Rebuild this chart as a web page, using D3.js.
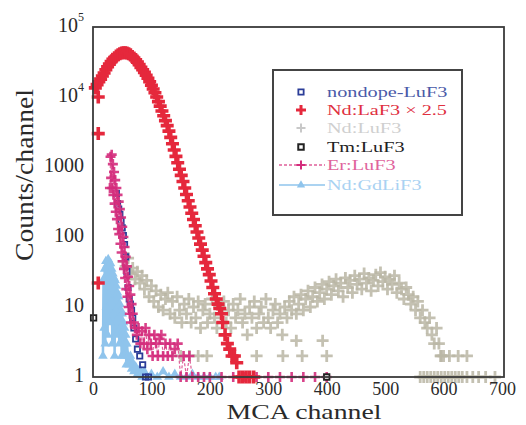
<!DOCTYPE html>
<html>
<head>
<meta charset="utf-8">
<script src="https://cdn.jsdelivr.net/npm/d3@7"></script>
<style>
  html, body { margin: 0; padding: 0; background: #fff; }
  svg { display: block; }
  text { font-family: "Liberation Serif", "Times New Roman", serif; }
</style>
</head>
<body>
<svg id="chart" width="526" height="425"></svg>
<script>
// ---------------- data ----------------
const xTicks = [0, 100, 200, 300, 400, 500, 600, 700];
const yTicks = [1, 10, 100, 1000, 10000, 100000];
const yTickLabels = ["1", "10", "100", "1000", "10^4", "10^5"];
const seriesNames = ["nondope-LuF3", "Nd:LaF3 \u00d7 2.5", "Nd:LuF3", "Tm:LuF3", "Er:LuF3", "Nd:GdLiF3"];

// Nd:LaF3 x 2.5 (red)
const ndLaCh = [4,7,10,13,16,19,22,25,28,31,34,37,40,43,46,49,52,55,58,61,64,67,70,73,76,79,82,85,88,91,94,97,100,103,106,109,112,115,118,121,124,127,130,133,136,139,142,145,148,151,154,157,160,163,166,169,172,175,178,181,184,187,190,193,196,199,202,205,208,211,214,217,220,
  9,9,9,222,226,230,234,238,242,246,250,256,262,268,275];
const ndLaVal = [13500,15000,16500,18000,20000,22000,24500,27000,29500,32000,34500,36500,38500,40000,41500,42500,43000,43000,42500,41500,40000,38000,36000,34000,31500,29000,26500,24500,22500,20500,18500,16500,14700,13000,11500,10000,8600,7400,6300,5400,4600,3900,3250,2650,2150,1750,1420,1150,930,760,620,500,405,330,268,218,178,145,118,97,79,65,53,43,35,29,23.5,19,15.5,13,11,9.5,8,
  10000,3000,22,6,4,3,2.5,2,2,1.6,1,1,1,1,1];

// Nd:LuF3 (gray)
const ndLuCh = [52,56,60,64,68,72,76,80,84,88,92,96,100,104,108,112,116,120,124,128,132,136,140,144,148,152,156,160,164,168,172,176,180,184,188,192,196,200,204,208,212,216,220,224,228,232,236,240,244,248,252,256,260,264,268,272,276,280,284,288,292,296,300,304,308,312,316,320,324,328,332,336,340,344,348,352,356,360,364,368,372,376,380,384,388,392,396,400,404,408,412,416,420,424,428,432,436,440,444,448,452,456,460,464,468,472,476,480,484,488,492,496,500,504,508,512,516,520,524,528,532,536,540,544,548,552,556,560,564,568,572,576,580,584,588,592,596,600,
  150,165,180,195,280,325,358,400,348,393,595,610,625,640,560,566,572,578,584,590,596,602,608,614,620,626,632,640,650,660,672,688];
const ndLuVal = [45,38,50,30,36,25,32,22,28,18,24,14,20,12,17,10,15,9,13,16,8,12,7,14,9,6,11,8,13,6,10,7,12,5,9,11,6,8,13,7,5,10,8,12,6,9,5,11,7,9,13,6,8,4,10,7,12,5,8,10,6,13,7,5,9,11,6,8,4,10,7,12,9,14,8,11,15,9,13,17,10,14,19,12,16,21,13,18,23,15,20,25,17,22,14,26,19,24,16,28,21,25,18,30,22,26,17,24,29,20,31,23,27,18,25,21,28,16,22,18,13,19,15,11,14,9,12,7,9,6,5,7,4,3,5,3,2,2,
  2,2,2,2,2,2,2,2,3.3,3.3,2,2,2,2,1,1,1,1,1,1,1,1,1,1,1,1,1,1,1,1,1,1];

// nondope-LuF3 (dark blue squares)
const nondopeCh = [40,42,44,46,48,50,52,54,56,58,60,62,64,66,68,70,73,76,80,85,90,95];
const nondopeVal = [420,300,250,210,170,135,105,78,52,32,19,13,11,9,7,5,3.5,2.5,2,1.5,1,1];

// Tm:LuF3 (black squares)
const tmCh = [1, 400];
const tmVal = [7, 1];

// Er:LuF3 (magenta plus, dashed line)
const erCh = [29,30,31,32,33,34,35,36,37,38,39,40,41,42,43,44,45,46,47,48,49,50,51,52,53,54,55,56,57,58,59,60,61,62,63,64,65,66,68,70,72,75,78,81,84,87,90,93,96,99,102,105,108,111,114,117,120,124,128,132,136,140,145,150,155,160,165,170,180,190,200,220,240,260,280,300,320,340,360,380,400];
const erVal = [500,1400,700,1500,500,1100,400,850,300,650,230,500,180,400,130,320,110,250,80,190,60,140,45,100,35,72,26,52,18,38,14,27,10,20,8,15,6,11,8,6,5,4,5,3,4.5,3,5,2.5,4,3,2,4,3,2,3.5,4,2,3,2,3,2,2.5,3,1,2,1,2,1,1,1,1,1,1,1,1,1,1,1,1,1,1];

// Nd:GdLiF3 (light blue triangles, solid line)
const gdCh = [17,18,19,20,21,22,23,24,25,26,27,28,29,30,31,32,33,34,35,36,37,38,39,40,41,42,43,44,45,46,47,48,49,50,51,52,53,54,55,56,57,58,60,62,64,66,68,70,73,76,80,84,88,92,100,110,120,130,140,150,160,170,180,190,200,210,216];
const gdVal = [2,25,5,35,3,45,10,40,4,48,15,40,6,42,12,35,3,30,8,26,2,24,9,20,4,16,7,14,3,11,5,9,2,8,4,6,2,5,3,4,1.5,3,2,1.5,2,1.3,1.6,1.2,1.4,1.1,1.3,1,1.2,1,1.1,1,1.2,1,1.1,1,1,1.1,1,1,1,1,1];

// ---------------- drawing ----------------
const svg = d3.select("#chart");
const W = 526, H = 425;
const m = { left: 93, right: 504, top: 27, bottom: 377 };

svg.append("rect").attr("width", W).attr("height", H).attr("fill", "#fff");

const x = d3.scaleLinear().domain([0, 700]).range([m.left, 502]);
const y = d3.scaleLog().domain([1, 1e5]).range([m.bottom, m.top]);

const colors = {
  red: "#e5283c", gray: "#bab6a4", blue: "#2b3d98", black: "#222222",
  mag: "#d42c7c", lblue: "#8fc4ec"
};

const plusPath = s => `M${-s},0H${s}M0,${-s}V${s}`;
const zip = (a, b) => a.map((c, i) => ({ c, v: b[i] }));

function plusSeries(data, color, s, w, op) {
  svg.append("g").selectAll("path").data(data).join("path")
    .attr("transform", d => `translate(${x(d.c)},${y(d.v)})`)
    .attr("d", plusPath(s))
    .attr("stroke", color).attr("stroke-width", w).attr("fill", "none")
    .attr("opacity", op);
}

// gray Nd:LuF3
plusSeries(zip(ndLuCh, ndLuVal), colors.gray, 6, 2.8, 0.85);

// light blue Nd:GdLiF3
const gdData = zip(gdCh, gdVal);
svg.append("path").datum(gdData)
  .attr("d", d3.line().x(d => x(d.c)).y(d => y(d.v)))
  .attr("fill", "none").attr("stroke", colors.lblue).attr("stroke-width", 2.5);
svg.append("g").selectAll("path").data(gdData).join("path")
  .attr("transform", d => `translate(${x(d.c)},${y(d.v)})`)
  .attr("d", d3.symbol(d3.symbolTriangle, 40))
  .attr("fill", colors.lblue);

// nondope blue squares
svg.append("g").selectAll("path").data(zip(nondopeCh, nondopeVal)).join("path")
  .attr("transform", d => `translate(${x(d.c)},${y(d.v)})`)
  .attr("d", d3.symbol(d3.symbolSquare, 28))
  .attr("fill", "none").attr("stroke", colors.blue).attr("stroke-width", 1.8);

// Er:LuF3 magenta
const erData = zip(erCh, erVal);
svg.append("path").datum(erData)
  .attr("d", d3.line().x(d => x(d.c)).y(d => y(d.v)))
  .attr("fill", "none").attr("stroke", "#e0609a").attr("stroke-width", 1.2)
  .attr("stroke-dasharray", "3,2");
plusSeries(erData, colors.mag, 5, 2.6, 0.9);

// red Nd:LaF3
plusSeries(zip(ndLaCh, ndLaVal), colors.red, 6.5, 3.6, 1);

// Tm black squares
svg.append("g").selectAll("path").data(zip(tmCh, tmVal)).join("path")
  .attr("transform", d => `translate(${x(d.c)},${y(d.v)})`)
  .attr("d", d3.symbol(d3.symbolSquare, 30))
  .attr("fill", "#fff").attr("stroke", colors.black).attr("stroke-width", 1.8);

// frame
svg.append("rect")
  .attr("x", m.left).attr("y", m.top)
  .attr("width", m.right - m.left).attr("height", m.bottom - m.top)
  .attr("fill", "none").attr("stroke", "#3a3a3a").attr("stroke-width", 1.8);

// axes
const xAxis = svg.append("g").attr("transform", `translate(0,${m.bottom})`)
  .call(d3.axisBottom(x).tickValues(xTicks).tickSize(0).tickPadding(5).tickFormat(d3.format("d")));
xAxis.select(".domain").remove();
xAxis.selectAll("text").attr("font-size", 18).attr("fill", "#2a2a2a")
  .attr("font-family", '"Liberation Serif", serif');

const yAxis = svg.append("g").attr("transform", `translate(${m.left},0)`)
  .call(d3.axisLeft(y).tickValues(yTicks).tickSize(0).tickPadding(9).tickFormat(""));
yAxis.select(".domain").remove();
yAxis.selectAll(".tick text").each(function(d) {
  const t = d3.select(this).attr("font-size", 20).attr("fill", "#2a2a2a")
    .attr("font-family", '"Liberation Serif", serif').attr("dy", "0.2em");
  const lab = yTickLabels[yTicks.indexOf(d)];
  if (lab.includes("^")) {
    const [b, e] = lab.split("^");
    t.append("tspan").text(b);
    t.append("tspan").text(e).attr("font-size", 12).attr("dy", "-0.85em");
  } else {
    t.text(lab);
  }
});

// axis titles
svg.append("text").attr("x", 304).attr("y", 419).attr("text-anchor", "middle")
  .attr("font-size", 21).attr("fill", "#2a2a2a")
  .attr("textLength", 155).attr("lengthAdjust", "spacingAndGlyphs")
  .text("MCA channel");

svg.append("text").attr("transform", "translate(33,175) rotate(-90)")
  .attr("text-anchor", "middle").attr("font-size", 25).attr("fill", "#2a2a2a")
  .attr("textLength", 172).attr("lengthAdjust", "spacingAndGlyphs")
  .text("Counts/channel");

// legend
const lg = svg.append("g");
lg.append("rect").attr("x", 273).attr("y", 70).attr("width", 189).attr("height", 145)
  .attr("fill", "#fff").attr("stroke", "#444").attr("stroke-width", 2);
const rowsY = [92, 110, 128, 147, 165, 185];
const textColors = ["#4a5aa8", "#e0303f", "#cfcfcf", "#222222", "#e0649c", "#a9d2f2"];
const symX = 301;
lg.append("path").attr("transform", `translate(${symX},${rowsY[0]})`)
  .attr("d", d3.symbol(d3.symbolSquare, 28)).attr("fill", "none")
  .attr("stroke", colors.blue).attr("stroke-width", 1.8);
lg.append("path").attr("transform", `translate(${symX},${rowsY[1]})`)
  .attr("d", plusPath(5)).attr("stroke", colors.red).attr("stroke-width", 3);
lg.append("path").attr("transform", `translate(${symX},${rowsY[2]})`)
  .attr("d", plusPath(4.5)).attr("stroke", "#c8c8c8").attr("stroke-width", 2);
lg.append("path").attr("transform", `translate(${symX},${rowsY[3]})`)
  .attr("d", d3.symbol(d3.symbolSquare, 30)).attr("fill", "none")
  .attr("stroke", colors.black).attr("stroke-width", 2);
lg.append("line").attr("x1", 279).attr("x2", 325).attr("y1", rowsY[4]).attr("y2", rowsY[4])
  .attr("stroke", "#e0609a").attr("stroke-width", 1.5).attr("stroke-dasharray", "3,2");
lg.append("path").attr("transform", `translate(${symX},${rowsY[4]})`)
  .attr("d", plusPath(4.5)).attr("stroke", colors.mag).attr("stroke-width", 2);
lg.append("line").attr("x1", 279).attr("x2", 325).attr("y1", rowsY[5]).attr("y2", rowsY[5])
  .attr("stroke", colors.lblue).attr("stroke-width", 1.5);
lg.append("path").attr("transform", `translate(${symX},${rowsY[5]})`)
  .attr("d", d3.symbol(d3.symbolTriangle, 30)).attr("fill", colors.lblue);

seriesNames.forEach((n, i) => {
  const t = lg.append("text").attr("x", 327).attr("y", rowsY[i]).attr("dy", "0.35em")
    .attr("font-size", 15).attr("fill", textColors[i]).text(n);
  const w = t.node().getComputedTextLength();
  t.attr("textLength", w * 1.35).attr("lengthAdjust", "spacingAndGlyphs");
});
</script>
</body>
</html>
